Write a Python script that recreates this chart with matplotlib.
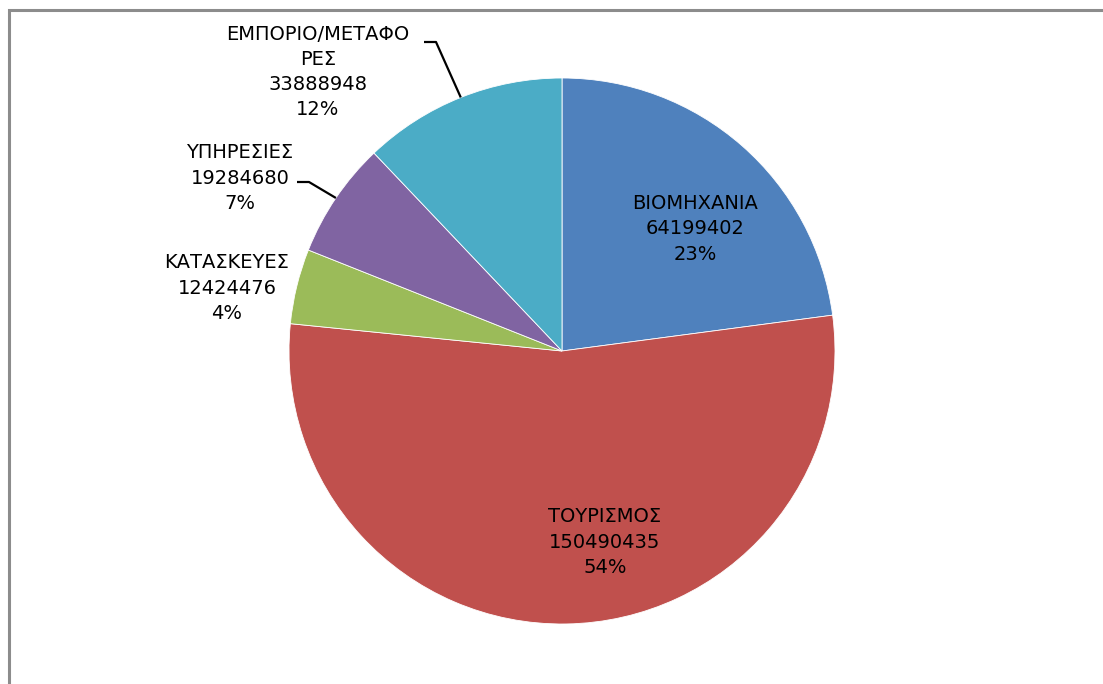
import numpy as np
import matplotlib.pyplot as plt
from matplotlib.patches import Rectangle

# sector values (Greek labels as in the source chart)
sectors = ['ΒΙΟΜΗΧΑΝΙΑ', 'ΤΟΥΡΙΣΜΟΣ', 'ΚΑΤΑΣΚΕΥΕΣ', 'ΥΠΗΡΕΣΙΕΣ', 'ΕΜΠΟΡΙΟ/ΜΕΤΑΦΟ\nΡΕΣ']
values = [64199402, 150490435, 12424476, 19284680, 33888948]
colors = ['#4F81BD', '#C0504D', '#9BBB59', '#8064A2', '#4BACC6']

W, H = 1103, 684
fig = plt.figure(figsize=(W / 100, H / 100), dpi=100)
fig.patch.set_facecolor('white')

# chart frame (runs off the right and bottom edges)
fig.patches.append(Rectangle((9 / W, -0.1), 1.2, (H - 10) / H + 0.1, transform=fig.transFigure,
                             fill=False, edgecolor='#8c8c8c', linewidth=2.2))

ax = fig.add_axes([0, 0, 1, 1])
cx, cy, r = 562, H - 351, 273
wedges, _ = ax.pie(values, colors=colors, startangle=90, counterclock=False,
                   center=(cx, cy), radius=r, frame=True,
                   wedgeprops=dict(edgecolor='white', linewidth=0.6))
ax.set_xlim(0, W)
ax.set_ylim(0, H)
ax.set_aspect('equal')
ax.axis('off')

total = sum(values)
labels = [f'{s}\n{v}\n{round(100 * v / total):.0f}%' for s, v in zip(sectors, values)]
font = dict(family=['DejaVu Sans'], fontsize=14, linespacing=1.42, color='black',
            ha='center', va='center')

# inside labels
ax.text(695, H - 229, labels[0], **font)
ax.text(605, H - 542, labels[1], **font)

# outside labels
ax.text(227, H - 288, labels[2], **font)
ax.text(240, H - 178, labels[3], **font)
ax.text(318, H - 72, labels[4], **font)

# leader lines: label end -> elbow -> wedge edge
def edge_point(w):
    a = np.deg2rad((w.theta1 + w.theta2) / 2)
    return cx + r * np.cos(a), cy + r * np.sin(a)

for w, (x0, y0), (x1, y1) in [(wedges[3], (297, H - 182), (309, H - 182)),
                              (wedges[4], (424, H - 42), (436, H - 42))]:
    ex, ey = edge_point(w)
    ax.plot([x0, x1, ex], [y0, y1, ey], color='black', linewidth=1.6, solid_capstyle='butt')

fig.savefig('out.png', dpi=100, facecolor='white')
